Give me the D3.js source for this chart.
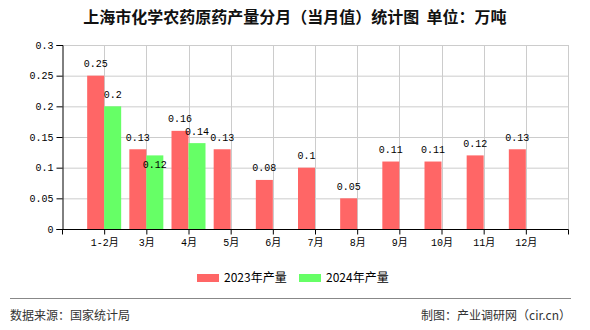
<!DOCTYPE html>
<html><head><meta charset="utf-8">
<script src="https://cdn.jsdelivr.net/npm/d3@7"></script>
<style>
body{margin:0;background:#fff;}
svg{display:block;}
</style></head>
<body>
<svg id="chart" width="590" height="330"></svg>
<script>
const categories = ["1-2月","3月","4月","5月","6月","7月","8月","9月","10月","11月","12月"];
const series2023 = [0.25,0.13,0.16,0.13,0.08,0.1,0.05,0.11,0.11,0.12,0.13];
const series2024 = [0.2,0.12,0.14,null,null,null,null,null,null,null,null];
const seriesNames = ["2023年产量","2024年产量"];
const yTicks = [0,0.05,0.1,0.15,0.2,0.25,0.3];
const yTickLabels = ["0","0.05","0.1","0.15","0.2","0.25","0.3"];
const titleText = "上海市化学农药原药产量分月（当月值）统计图  单位：万吨";
const sourceText = "数据来源：国家统计局";
const creditText = "制图：产业调研网（cir.cn）";

const colors = ["#ff6666","#66ff66"];
const monoFont = "'Liberation Mono','DejaVu Sans Mono','Noto Sans CJK SC',monospace";
const cjkFont = "'Noto Sans CJK SC','Liberation Sans',sans-serif";

const svg = d3.select("#chart");
const L = 62, R = 568, T = 45, B = 229;

const x = d3.scalePoint().domain(categories).range([L, R]).padding(1);
const y = d3.scaleLinear().domain([0, 0.3]).range([B, T]);
const step = x.step();
const bw = 17;

// title
svg.append("text").attr("x", 295).attr("y", 23).attr("text-anchor","middle")
  .attr("font-family", cjkFont).attr("font-size", 16).attr("font-weight", "bold")
  .attr("fill", "#111").style("white-space","pre").text(titleText);

// grid horizontal
svg.append("g").selectAll("line").data(yTicks.filter(d=>d>0)).join("line")
  .attr("x1", L).attr("x2", R).attr("y1", d=>y(d)+0.5).attr("y2", d=>y(d)+0.5)
  .attr("stroke", "#cccccc").attr("stroke-width", 1);
// grid vertical (band boundaries)
const vPos = d3.range(1, categories.length + 2).map(i => L + i*step);
svg.append("g").selectAll("line").data(vPos).join("line")
  .attr("x1", d=>Math.round(d)+0.5).attr("x2", d=>Math.round(d)+0.5).attr("y1", T).attr("y2", B)
  .attr("stroke", "#cccccc").attr("stroke-width", 1);

// bars
const data = categories.map((c,i)=>({c, v:[series2023[i], series2024[i]]}));
const barG = svg.append("g");
[0,1].forEach(s=>{
  barG.selectAll(".b"+s).data(data.filter(d=>d.v[s]!=null)).join("rect")
    .attr("x", d => s===0 ? x(d.c)-bw : x(d.c))
    .attr("y", d => y(d.v[s]))
    .attr("width", bw)
    .attr("height", d => B - y(d.v[s]))
    .attr("fill", colors[s]);
});

// axes
const yAxis = d3.axisLeft(y).tickValues(yTicks).tickFormat((d,i)=>yTickLabels[i]).tickSize(6).tickPadding(3);
const gy = svg.append("g").attr("transform", `translate(${L+0.5},0)`).call(yAxis);
gy.select(".domain").attr("stroke","#000");
gy.selectAll(".tick line").attr("stroke","#000");
gy.selectAll("text").attr("font-family", monoFont).attr("font-size", 10).attr("fill","#000");

const xAxis = d3.axisBottom(x).tickSizeOuter(0).tickSize(5).tickPadding(4);
const gx = svg.append("g").attr("transform", `translate(0,${B+0.5})`).call(xAxis);
gx.select(".domain").attr("d", `M${L},0H${R+0.5}`).attr("stroke","#000");
gx.selectAll(".tick line").attr("stroke","#000");
gx.selectAll("text").attr("font-family", monoFont).attr("font-size", 10).attr("fill","#000");
// extra boundary ticks at ends
[L, R].forEach(px=>{
  gx.append("line").attr("x1", px+0.5).attr("x2", px+0.5).attr("y1",0).attr("y2",5).attr("stroke","#000");
});

// value labels with simple collision handling
const placed = [];
const labG = svg.append("g");
[0,1].forEach(s=>{
  data.forEach(d=>{
    const v = d.v[s];
    if (v==null) return;
    const cx = s===0 ? x(d.c)-bw/2 : x(d.c)+bw/2;
    const txt = String(v);
    const w = txt.length*6;
    let base = y(v) - 8.5;
    const box = b => ({x0:cx-w/2, x1:cx+w/2, y0:b-8, y1:b+1});
    let bx = box(base);
    const hit = placed.some(p => !(bx.x1<=p.x0 || bx.x0>=p.x1 || bx.y1<=p.y0 || bx.y0>=p.y1));
    if (hit) { base = y(v) + 12.5; bx = box(base); }
    placed.push(bx);
    labG.append("text").attr("x", cx).attr("y", base).attr("text-anchor","middle")
      .attr("font-family", monoFont).attr("font-size", 10).attr("fill","#000").text(txt);
  });
});

// legend
const legX = [197, 299];
seriesNames.forEach((n,i)=>{
  svg.append("rect").attr("x", legX[i]).attr("y", 274).attr("width", 22).attr("height", 8).attr("fill", colors[i]);
  svg.append("text").attr("x", legX[i]+27).attr("y", 282).attr("font-family", cjkFont)
    .attr("font-size", 12).attr("fill","#000").text(n);
});

// footer
svg.append("line").attr("x1", 10).attr("x2", 571).attr("y1", 298.5).attr("y2", 298.5).attr("stroke","#888").attr("stroke-width",1);
svg.append("text").attr("x", 10).attr("y", 320).attr("font-family", cjkFont).attr("font-size", 12).attr("fill","#333").text(sourceText);
svg.append("text").attr("x", 571).attr("y", 320).attr("text-anchor","end").attr("font-family", cjkFont).attr("font-size", 12).attr("fill","#333").text(creditText);
</script>
</body></html>
